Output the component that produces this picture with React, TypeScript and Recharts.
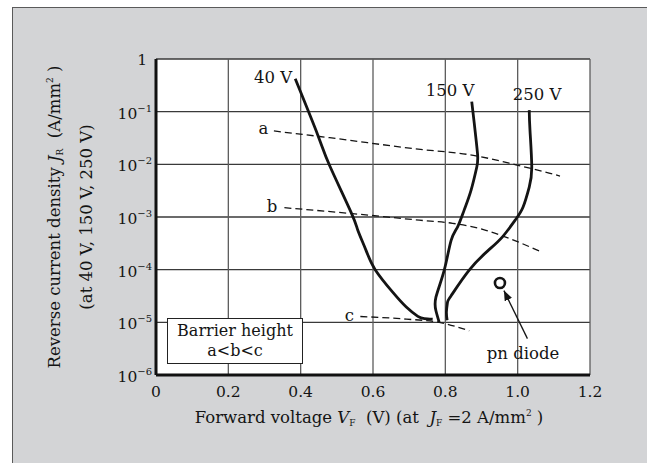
import React from 'react';
import { ComposedChart, Line, Scatter, XAxis, YAxis, CartesianGrid } from 'recharts';

// forward voltage (V) vs reverse current density (A/mm2)
const xTicks = [0, 0.2, 0.4, 0.6, 0.8, 1.0, 1.2];
const yTicks = [1e-6, 1e-5, 1e-4, 1e-3, 1e-2, 1e-1, 1];

const curve40V = [
  [0.385, 4.2e-1], [0.448, 3.5e-2], [0.48, 9.5e-3], [0.54, 1.2e-3], [0.558, 5.6e-4],
  [0.581, 2.3e-4], [0.606, 1.0e-4], [0.655, 3.7e-5], [0.692, 1.95e-5], [0.724, 1.3e-5],
  [0.742, 1.18e-5], [0.765, 1.15e-5],
];
const curve150V = [
  [0.873, 1.55e-1], [0.88, 6.0e-2], [0.889, 1.6e-2], [0.887, 8.9e-3], [0.871, 3.2e-3],
  [0.852, 1.35e-3], [0.834, 6.5e-4], [0.816, 3.6e-4], [0.797, 9.8e-5], [0.774, 3.0e-5],
  [0.774, 1.66e-5], [0.783, 1.0e-5],
];
const curve250V = [
  [1.032, 1.07e-1], [1.034, 4.5e-2], [1.039, 8.9e-3], [1.032, 3.7e-3], [1.015, 1.55e-3],
  [0.993, 8.7e-4], [0.958, 4.2e-4], [0.918, 2.3e-4], [0.866, 9.8e-5], [0.816, 3.2e-5],
  [0.806, 2.4e-5], [0.803, 1.6e-5], [0.805, 1.1e-5],
];
const barrierA = [
  [0.326, 4.3e-2], [0.48, 3.2e-2], [0.708, 2.0e-2], [0.885, 1.45e-2], [0.995, 9.8e-3],
  [1.087, 6.8e-3], [1.117, 6.0e-3],
];
const barrierB = [
  [0.355, 1.5e-3], [0.537, 1.17e-3], [0.728, 8.7e-4], [0.82, 7.6e-4], [0.912, 5.6e-4],
  [0.965, 4.2e-4], [1.064, 2.2e-4],
];
const barrierC = [[0.565, 1.29e-5], [0.692, 1.15e-5], [0.783, 1.0e-5], [0.866, 6.9e-6]];
const pnDiode = [[0.951, 5.6e-5]];
const pnArrow = [[1.027, 4.9e-6], [0.962, 4.0e-5]];

const labelTexts = ['40 V', '150 V', '250 V', 'a', 'b', 'c', 'pn diode'];
const labelAt = [
  [0.324, 0.35], [0.813, 0.2], [1.054, 0.163], [0.297, 0.038], [0.321, 1.26e-3],
  [0.535, 1.08e-5], [1.015, 2.0e-6],
];

const FONT = '"DejaVu Serif", serif';
const INK = '#141414';

const toPoints = (rows: number[][]) => rows.map(([x, y]) => ({ x, y }));
const labelPoints = labelTexts.map((text, i) => ({ text, x: labelAt[i][0], y: labelAt[i][1] }));

const XTick = ({ x, y, payload }: any) => {
  const v = payload.value;
  return (
    <text x={x} y={y + 22} textAnchor="middle" fontFamily={FONT} fontSize={15.5} fill={INK}>
      {v === 0 ? '0' : v.toFixed(1)}
    </text>
  );
};

const YTick = ({ x, y, payload }: any) => {
  const exp = Math.round(Math.log10(payload.value));
  if (exp === 0) {
    return (
      <text x={x - 5} y={y + 6} textAnchor="end" fontFamily={FONT} fontSize={15.5} fill={INK}>1</text>
    );
  }
  return (
    <text x={x} y={y + 7} textAnchor="end" fontFamily={FONT} fontSize={15.5} fill={INK}>
      <tspan>10</tspan>
      <tspan dy={-7} fontSize={10}>{'\u2212' + Math.abs(exp)}</tspan>
    </text>
  );
};

const XTitle = ({ viewBox }: any) => {
  const { x, y, width } = viewBox;
  return (
    <text x={x + width / 2 - 4} y={y + 48} textAnchor="middle" fontFamily={FONT} fontSize={16.5} fill={INK}>
      <tspan>Forward voltage </tspan>
      <tspan fontStyle="italic">V</tspan>
      <tspan dy={3} fontSize={9}>F</tspan>
      <tspan dy={-3}>{'\u00a0 (V) (at \u00a0'}</tspan>
      <tspan fontStyle="italic">J</tspan>
      <tspan dy={3} fontSize={9}>F</tspan>
      <tspan dy={-3}> =2 A/mm</tspan>
      <tspan dy={-7} fontSize={9}>2</tspan>
      <tspan dy={7}> )</tspan>
    </text>
  );
};

const YTitle = ({ viewBox }: any) => {
  const { x, y, height } = viewBox;
  const cy = y + height / 2;
  const x1 = x - 36;
  const x2 = x - 4;
  return (
    <g fontFamily={FONT} fontSize={16.5} fill={INK}>
      <text x={x1} y={cy} textAnchor="middle" transform={`rotate(-90 ${x1} ${cy})`}>
        <tspan>Reverse current density </tspan>
        <tspan fontStyle="italic">J</tspan>
        <tspan dy={3} fontSize={9}>R</tspan>
        <tspan dy={-3}>{'\u00a0 (A/mm'}</tspan>
        <tspan dy={-7} fontSize={9}>2</tspan>
        <tspan dy={7}> )</tspan>
      </text>
      <text x={x2} y={cy} textAnchor="middle" transform={`rotate(-90 ${x2} ${cy})`}>
        (at 40 V, 150 V, 250 V)
      </text>
    </g>
  );
};

const DiodeMark = ({ cx, cy }: any) => (
  <circle cx={cx} cy={cy} r={5} fill="#fff" stroke={INK} strokeWidth={2.6} />
);

const TextMark = ({ cx, cy, payload }: any) => (
  <text x={cx} y={cy} textAnchor="middle" fontFamily={FONT} fontSize={16.5} fill={INK}>
    {payload.text}
  </text>
);

const solid = { type: 'natural' as const, stroke: INK, strokeWidth: 2.8, dot: false, isAnimationActive: false };
const dashed = { type: 'monotone' as const, stroke: INK, strokeWidth: 1.3, strokeDasharray: '7 4', dot: false, isAnimationActive: false };

export default function App() {
  return (
    <div style={{ position: 'fixed', left: 0, top: 0, width: 647, height: 463, background: '#fff', overflow: 'hidden' }}>
      <svg width={0} height={0} style={{ position: 'absolute' }}>
        <defs>
          <marker id="arrowHead" markerWidth={10} markerHeight={8} refX={10} refY={4} orient="auto" markerUnits="userSpaceOnUse">
            <path d="M0,0 L10,4 L0,8 z" fill={INK} />
          </marker>
        </defs>
      </svg>
      <div
        style={{
          position: 'absolute', left: 12, top: 7, right: -2, bottom: -2,
          background: '#d3d4d6', borderLeft: '1.5px solid #5a5a5a', borderTop: '1.5px solid #5a5a5a',
        }}
      />
      <div style={{ position: 'absolute', left: 0, top: 0 }}>
        <ComposedChart width={647} height={463} margin={{ top: 59, right: 57, bottom: 58, left: 96 }}>
          <CartesianGrid vertical={false} stroke="#3a3a3a" strokeWidth={1.3} fill="#fff" fillOpacity={1} />
          <CartesianGrid horizontal={false} stroke="#5c5c5c" strokeWidth={1.3} />
          <XAxis
            dataKey="x"
            type="number"
            domain={[0, 1.2]}
            ticks={xTicks}
            allowDataOverflow
            height={30}
            tickSize={0}
            tickMargin={0}
            tickLine={false}
            axisLine={{ stroke: '#111', strokeWidth: 3 }}
            tick={<XTick />}
            label={<XTitle />}
          />
          <YAxis
            dataKey="y"
            type="number"
            scale="log"
            domain={[1e-6, 1]}
            ticks={yTicks}
            allowDataOverflow
            width={60}
            tickSize={0}
            tickMargin={4}
            tickLine={false}
            axisLine={{ stroke: '#111', strokeWidth: 3 }}
            tick={<YTick />}
            label={<YTitle />}
          />
          <Line data={toPoints(barrierA)} dataKey="y" {...dashed} />
          <Line data={toPoints(barrierB)} dataKey="y" {...dashed} />
          <Line data={toPoints(barrierC)} dataKey="y" {...dashed} />
          <Line data={toPoints(curve40V)} dataKey="y" {...solid} />
          <Line data={toPoints(curve150V)} dataKey="y" {...solid} />
          <Line data={toPoints(curve250V)} dataKey="y" {...solid} />
          <Line
            data={toPoints(pnArrow)}
            dataKey="y"
            type="linear"
            stroke={INK}
            strokeWidth={1.3}
            dot={false}
            markerEnd="url(#arrowHead)"
            isAnimationActive={false}
          />
          <Scatter data={toPoints(pnDiode)} dataKey="y" shape={<DiodeMark />} isAnimationActive={false} />
          <Scatter data={labelPoints} dataKey="y" shape={<TextMark />} isAnimationActive={false} />
        </ComposedChart>
      </div>
      <div
        style={{
          position: 'absolute', left: 167, top: 318, width: 136, height: 46, boxSizing: 'border-box',
          border: '1.5px solid #222', background: '#fff', fontFamily: FONT, fontSize: 16, color: INK,
          lineHeight: '20px', textAlign: 'center', paddingTop: 2,
        }}
      >
        Barrier height
        <br />
        a&lt;b&lt;c
      </div>
    </div>
  );
}
